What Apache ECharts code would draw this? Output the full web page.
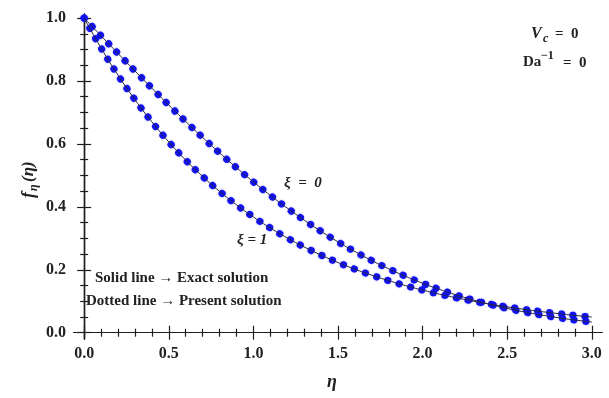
<!DOCTYPE html>
<html>
<head>
<meta charset="utf-8">
<script src="https://cdn.jsdelivr.net/npm/echarts@6/dist/echarts.min.js"></script>
<style>
html,body{margin:0;padding:0;background:#fff;}
#c{width:609px;height:398px;}
</style>
</head>
<body>
<div id="c"></div>
<script>
// ---- data ----
const eta = [0,0.1,0.2,0.3,0.4,0.5,0.6,0.7,0.8,0.9,1.0,1.1,1.2,1.3,1.4,1.5,1.6,1.7,1.8,1.9,2.0,2.1,2.2,2.3,2.4,2.5,2.6,2.7,2.8,2.9,3.0];
const xi0 = [1.000,0.9436,0.8875,0.8320,0.7773,0.7237,0.6714,0.6206,0.5716,0.5245,0.4795,0.4367,0.3961,0.3580,0.3222,0.2888,0.2579,0.2293,0.2031,0.1791,0.1573,0.1376,0.1198,0.1039,0.0897,0.0771,0.0660,0.0562,0.0477,0.0403,0.0339];
const xi1 = [1.000,0.9048,0.8187,0.7408,0.6703,0.6065,0.5488,0.4966,0.4493,0.4066,0.3679,0.3329,0.3012,0.2725,0.2466,0.2231,0.2019,0.1827,0.1653,0.1496,0.1353,0.1225,0.1108,0.1003,0.0907,0.0821,0.0743,0.0672,0.0608,0.0550,0.0498];
const xMajor = [0,0.5,1.0,1.5,2.0,2.5,3.0];
const xMinor = [0.1,0.2,0.3,0.4,0.6,0.7,0.8,0.9,1.1,1.2,1.3,1.4,1.6,1.7,1.8,1.9,2.1,2.2,2.3,2.4,2.6,2.7,2.8,2.9];
const yMajor = [0,0.2,0.4,0.6,0.8,1.0];
const yMinor = [0.05,0.1,0.15,0.25,0.3,0.35,0.45,0.5,0.55,0.65,0.7,0.75,0.85,0.9,0.95];

const X_MIN = -0.06, X_MAX = 3.06, Y_MIN = -0.02, Y_MAX = 1.013;
const FRAME = '#1e1e1e';
const SERIF = '"Liberation Serif", "DejaVu Serif", serif';

function pairs(xs, ys){ return xs.map((x,i)=>[x, ys[i]]); }

function xAx(pos, vals, len, labels){
  return {
    type:'value', min:X_MIN, max:X_MAX, position:pos,
    axisLine:{show:true, lineStyle:{color:FRAME, width:1.2}},
    axisTick:{show:true, inside:true, length:len, customValues:vals, lineStyle:{color:FRAME, width:1.2}},
    axisLabel:{show:labels, customValues:vals, margin:7, formatter:v=>v.toFixed(1),
      fontFamily:SERIF, fontWeight:'bold', fontSize:16, color:'#222'},
    splitLine:{show:false}
  };
}
function yAx(pos, vals, len, labels){
  return {
    type:'value', min:Y_MIN, max:Y_MAX, position:pos,
    axisLine:{show:true, lineStyle:{color:FRAME, width:1.2}},
    axisTick:{show:true, inside:true, length:len, customValues:vals, lineStyle:{color:FRAME, width:1.2}},
    axisLabel:{show:labels, customValues:vals, margin:8, formatter:v=>v.toFixed(1),
      fontFamily:SERIF, fontWeight:'bold', fontSize:16, color:'#222'},
    splitLine:{show:false}
  };
}

const chart = echarts.init(document.getElementById('c'), null, {renderer:'canvas'});
const dotStyle = {color:'#1010f0', width:7, type:[0.1, 11.7], cap:'round', shadowColor:'rgba(30,30,255,0.6)', shadowBlur:1.5};
const solidStyle = {color:'#262640', width:1};

chart.setOption({
  animation:false,
  backgroundColor:'#fff',
  grid:{left:74, right:7, top:14, bottom:59, containLabel:false},
  xAxis:[ xAx('bottom', xMajor, 7, true), xAx('bottom', xMinor, 4, false),
          xAx('top', xMajor, 7, false), xAx('top', xMinor, 4, false) ],
  yAxis:[ yAx('left', yMajor, 7, true), yAx('left', yMinor, 4, false),
          yAx('right', yMajor, 7, false), yAx('right', yMinor, 4, false) ],
  series:[
    {type:'line', name:'xi0 present', data:pairs(eta, xi0), smooth:true, showSymbol:false, lineStyle:dotStyle, z:2},
    {type:'line', name:'xi1 present', data:pairs(eta, xi1), smooth:true, showSymbol:false, lineStyle:dotStyle, z:2},
    {type:'line', name:'xi0 exact', data:pairs(eta, xi0), smooth:true, showSymbol:false, lineStyle:solidStyle, z:3},
    {type:'line', name:'xi1 exact', data:pairs(eta, xi1), smooth:true, showSymbol:false, lineStyle:solidStyle, z:3}
  ],
  graphic:[
    // axis titles
    {type:'group', x:30, y:176, rotation:Math.PI/2, children:[
      {type:'text', x:-22, y:-10, style:{text:'f', font:'italic bold 18px '+SERIF, fill:'#222'}},
      {type:'text', x:-15, y:-2, style:{text:'η', font:'italic bold 12px '+SERIF, fill:'#222'}},
      {type:'text', x:-6, y:-10, style:{text:'(η)', font:'italic bold 17px '+SERIF, fill:'#222'}}
    ]},
    {type:'text', x:327, y:373, style:{text:'η', font:'italic bold 18px '+SERIF, fill:'#222'}},
    // parameters
    {type:'text', x:531, y:26, style:{text:'V', font:'italic bold 16px '+SERIF, fill:'#222'}},
    {type:'text', x:543, y:33, style:{text:'c', font:'italic bold 12px '+SERIF, fill:'#222'}},
    {type:'text', x:555, y:27, style:{text:'=  0', font:'bold 15px '+SERIF, fill:'#222'}},
    {type:'text', x:523, y:55, style:{text:'Da', font:'bold 15px '+SERIF, fill:'#222'}},
    {type:'text', x:541, y:50, style:{text:'−1', font:'bold 12px '+SERIF, fill:'#222'}},
    {type:'text', x:563, y:56, style:{text:'=  0', font:'bold 15px '+SERIF, fill:'#222'}},
    // curve labels
    {type:'text', x:284, y:176, style:{text:'ξ  =  0', font:'italic bold 15px '+SERIF, fill:'#222'}},
    {type:'text', x:237, y:233, style:{text:'ξ = 1', font:'italic bold 15px '+SERIF, fill:'#222'}},
    // legend text
    {type:'text', x:95, y:271, style:{text:'Solid line → Exact solution', font:'bold 15px '+SERIF, fill:'#222'}},
    {type:'text', x:86, y:294, style:{text:'Dotted line → Present solution', font:'bold 15px '+SERIF, fill:'#222'}}
  ]
});
</script>
</body>
</html>
